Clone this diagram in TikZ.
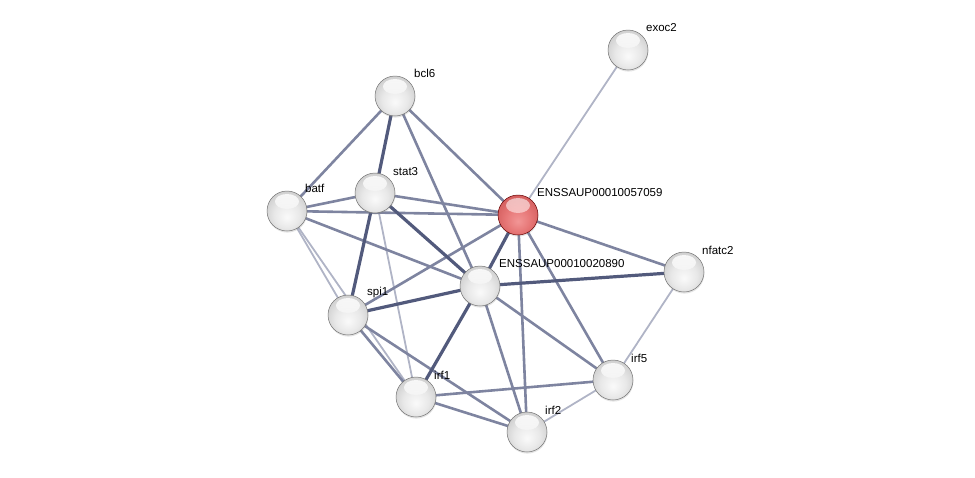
\documentclass[tikz,border=0pt]{standalone}
\usepackage{fontspec}
\setmainfont{Liberation Sans}
\usetikzlibrary{backgrounds,shadows}
\pgfdeclareradialshading{greyball}{\pgfpoint{0bp}{-8bp}}{%
  color(0bp)=(white!98!black); color(16bp)=(white!91!black);
  color(30bp)=(white!80!black); color(38bp)=(white!66!black);
  color(44bp)=(white!48!black); color(50bp)=(white!40!black)}
\pgfdeclareradialshading{redball}{\pgfpoint{0bp}{-8bp}}{%
  color(0bp)=(rgb,255:red,242;green,150;blue,150); color(16bp)=(rgb,255:red,230;green,118;blue,118);
  color(30bp)=(rgb,255:red,210;green,92;blue,92); color(38bp)=(rgb,255:red,185;green,66;blue,66);
  color(44bp)=(rgb,255:red,150;green,45;blue,45); color(50bp)=(rgb,255:red,120;green,35;blue,35)}
\definecolor{edark}{RGB}{82,90,124}
\definecolor{emid}{RGB}{126,132,160}
\definecolor{elight}{RGB}{176,180,198}
\tikzset{
  ballnode/.style={circle, minimum size=40pt, inner sep=0pt, shading=greyball,
    draw=white!45!black, line width=0.5pt,
    drop shadow={opacity=0.22, shadow xshift=0.4pt, shadow yshift=-1.6pt},
    path picture={\shade[top color=white, bottom color=white!92!black, opacity=0.85]
      ([yshift=9.5pt]path picture bounding box.center) ellipse (12pt and 7.5pt);}},
  rednode/.style={ballnode, shading=redball, draw=black!20!red!50!black,
    path picture={\shade[top color=white, bottom color=red!20!white, opacity=0.6]
      ([yshift=9.5pt]path picture bounding box.center) ellipse (12pt and 7.5pt);}},
  lbl/.style={anchor=west, inner sep=0pt, font=\fontsize{11.5}{12}\selectfont},
  edk/.style={draw=edark, line width=3.2pt},
  emd/.style={draw=emid, line width=2.6pt},
  elt/.style={draw=elight, line width=1.8pt},
}
\begin{document}
\begin{tikzpicture}[x=1pt,y=-1pt]
\useasboundingbox (0,0) rectangle (975,477);
% nodes
\node[ballnode] (exoc2) at (628,50) {};
\node[ballnode] (bcl6) at (395,96) {};
\node[ballnode] (stat3) at (375,193) {};
\node[ballnode] (batf) at (287,211) {};
\node[rednode] (red) at (518,215) {};
\node[ballnode] (nfatc2) at (684,272) {};
\node[ballnode] (e20890) at (480,286) {};
\node[ballnode] (spi1) at (348,315) {};
\node[ballnode] (irf5) at (613,380) {};
\node[ballnode] (irf1) at (416,397) {};
\node[ballnode] (irf2) at (527,432) {};
% labels
\node[lbl] (lexoc2) at ([shift={(18,-22)}]exoc2.center) {exoc2};
\node[lbl] (lbcl6) at ([shift={(19,-23)}]bcl6.center) {bcl6};
\node[lbl] (lstat3) at ([shift={(18,-21)}]stat3.center) {stat3};
\node[lbl] (lbatf) at ([shift={(18,-23)}]batf.center) {batf};
\node[lbl] (lred) at ([shift={(19,-22)}]red.center) {ENSSAUP00010057059};
\node[lbl] (lnfatc2) at ([shift={(18,-22)}]nfatc2.center) {nfatc2};
\node[lbl] (l20890) at ([shift={(19,-22)}]e20890.center) {ENSSAUP00010020890};
\node[lbl] (lspi1) at ([shift={(19,-22)}]spi1.center) {spi1};
\node[lbl] (lirf5) at ([shift={(18,-22)}]irf5.center) {irf5};
\node[lbl] (lirf1) at ([shift={(18,-22)}]irf1.center) {irf1};
\node[lbl] (lirf2) at ([shift={(18,-22)}]irf2.center) {irf2};
% edges
\begin{scope}[on background layer]
\draw[elt] (exoc2.center) -- (red.center);
\draw[elt] (batf.center) -- (spi1.center);
\draw[elt] (batf.center) -- (irf1.center);
\draw[elt] (stat3.center) -- (irf1.center);
\draw[elt] (nfatc2.center) -- (irf5.center);
\draw[elt] (irf2.center) -- (irf5.center);
\draw[emd] (batf.center) -- (red.center);
\draw[emd] (bcl6.center) -- (batf.center);
\draw[emd] (bcl6.center) -- (red.center);
\draw[emd] (bcl6.center) -- (e20890.center);
\draw[emd] (stat3.center) -- (red.center);
\draw[emd] (batf.center) -- (e20890.center);
\draw[emd] (red.center) -- (spi1.center);
\draw[emd] (red.center) -- (irf5.center);
\draw[emd] (red.center) -- (nfatc2.center);
\draw[emd] (red.center) -- (irf2.center);
\draw[emd] (e20890.center) -- (irf5.center);
\draw[emd] (e20890.center) -- (irf2.center);
\draw[emd] (spi1.center) -- (irf1.center);
\draw[emd] (spi1.center) -- (irf2.center);
\draw[emd] (irf1.center) -- (irf5.center);
\draw[emd] (irf1.center) -- (irf2.center);
\draw[emd] (batf.center) -- (stat3.center);
\draw[edk] (bcl6.center) -- (stat3.center);
\draw[edk] (stat3.center) -- (e20890.center);
\draw[edk] (stat3.center) -- (spi1.center);
\draw[edk] (spi1.center) -- (e20890.center);
\draw[edk] (red.center) -- (e20890.center);
\draw[edk] (e20890.center) -- (nfatc2.center);
\draw[edk] (e20890.center) -- (irf1.center);
\end{scope}
\end{tikzpicture}
\end{document}
